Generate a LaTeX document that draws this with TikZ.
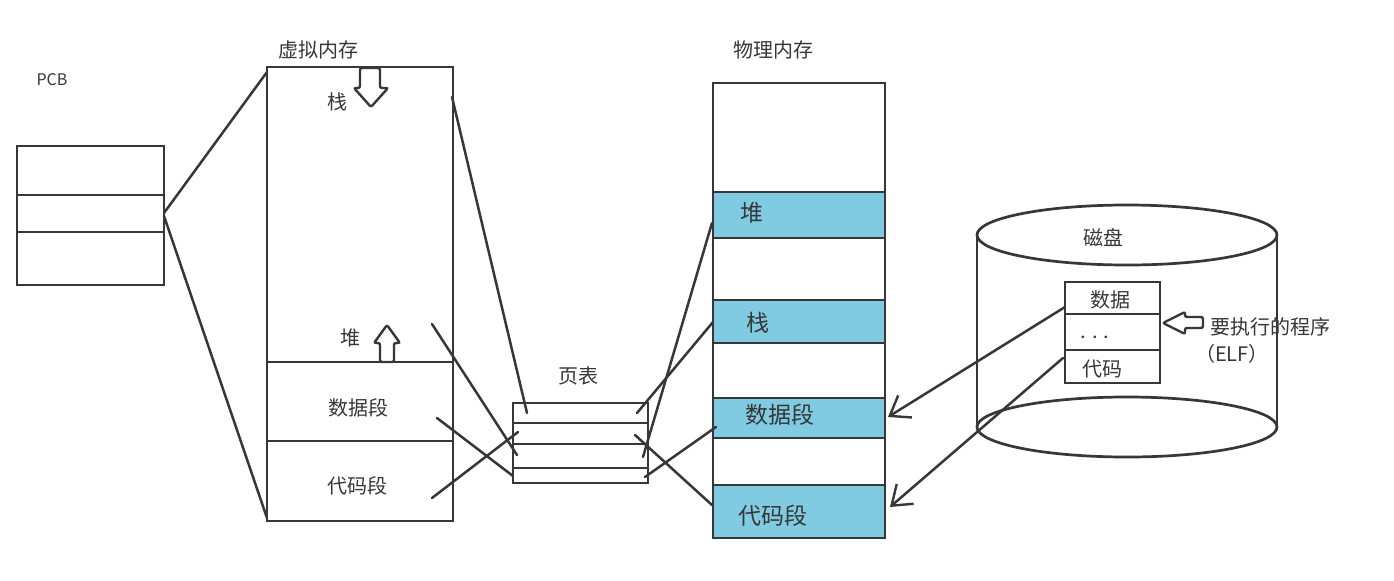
\documentclass[tikz,border=0pt]{standalone}
\usepackage{fontspec}
\newfontfamily\cjk{Noto Sans CJK SC}
\usetikzlibrary{arrows.meta}
\definecolor{band}{RGB}{128,202,226}
\definecolor{ink}{RGB}{55,55,55}
\begin{document}
\begin{tikzpicture}[x=0.5pt,y=-0.5pt,
  box/.style={draw=ink,line width=1.35pt},
  link/.style={draw=ink,line width=1.25pt,line cap=round},
  barb/.style={link,-{Straight Barb[length=9pt,width=13pt,line width=1.2pt]}},
  blockarrow/.style={draw=ink,fill=white,line width=1.2pt,rounded corners=1pt},
  lbl/.style={font=\cjk\fontsize{10}{12}\selectfont,text=ink,inner sep=0pt},
  big/.style={font=\cjk\fontsize{11.5}{13}\selectfont,text=ink,inner sep=0pt},
  small/.style={font=\cjk\fontsize{8}{10}\selectfont,text=ink,inner sep=0pt}]
\useasboundingbox[fill=white] (0,0) rectangle (1394,580);

% ---------- PCB ----------
\node[small] (pcbl) at (52,80) {PCB};
\draw[box] (17,146) rectangle (164,285);
\draw[box] (17,195) -- (164,195);
\draw[box] (17,232) -- (164,232);
\coordinate (pcbA) at (164,213);
\coordinate (pcbB) at (164,216);

% ---------- virtual memory ----------
\node[lbl] (vml) at (318,50) {虚拟内存};
\draw[box] (267,67) rectangle (453,521);
\draw[box] (267,362) -- (453,362);
\draw[box] (267,441) -- (453,441);
\node[lbl] (vstack) at (337,102) {栈};
\node[lbl] (vheap) at (350,338) {堆};
\node[lbl] (vdata) at (358,408) {数据段};
\node[lbl] (vcode) at (357,486) {代码段};
\draw[blockarrow] (360,68) -- (380,68) -- (380,88) -- (388,88) -- (371,107) -- (354,88) -- (360,88) -- cycle;
\draw[blockarrow] (380,362) -- (394,362) -- (394,343) -- (400,343) -- (387,325) -- (374,343) -- (380,343) -- cycle;
\coordinate (vmTL) at (267,72);
\coordinate (vmBL) at (267,518);
\draw[link] (pcbA) -- (vmTL);
\draw[link] (pcbB) -- (vmBL);

% ---------- page table ----------
\node[lbl] (ptl) at (578,376) {页表};
\draw[box] (513,403) rectangle (648,483);
\draw[box] (513,423) -- (648,423);
\draw[box] (513,444) -- (648,444);
\draw[box] (513,468) -- (648,468);

\coordinate (v1) at (452,97);   \coordinate (p1) at (527,413);
\coordinate (v2) at (432,324);  \coordinate (p2) at (517,455);
\coordinate (v3) at (437,418);  \coordinate (p3) at (513,476);
\coordinate (v4) at (432,498);  \coordinate (p4) at (518,432);
\draw[link] (v1) -- (p1);
\draw[link] (v2) -- (p2);
\draw[link] (v3) -- (p3);
\draw[link] (v4) -- (p4);

% ---------- physical memory ----------
\node[lbl] (pml) at (773,50) {物理内存};
\fill[band] (713,192) rectangle (885,238);
\fill[band] (713,300) rectangle (885,343);
\fill[band] (713,398) rectangle (885,438);
\fill[band] (713,485) rectangle (885,538);
\draw[box] (713,83) rectangle (885,538);
\foreach \yy in {192,238,300,343,398,438,485}
  \draw[box] (713,\yy) -- (885,\yy);
\node[big] (pheap) at (752,213) {堆};
\node[big] (pstack) at (758,323) {栈};
\node[big] (pdata) at (780,415) {数据段};
\node[big] (pcode) at (773,516) {代码段};

\coordinate (q1) at (643,457);  \coordinate (m1) at (712,223);
\coordinate (q2) at (637,413);  \coordinate (m2) at (713,322);
\coordinate (q3) at (645,477);  \coordinate (m3) at (716,427);
\coordinate (q4) at (635,435);  \coordinate (m4) at (712,505);
\draw[link] (q1) -- (m1);
\draw[link] (q2) -- (m2);
\draw[link] (q3) -- (m3);
\draw[link] (q4) -- (m4);

% ---------- disk ----------
\draw[box] (977,235) -- (977,427);
\draw[box] (1277,235) -- (1277,427);
\draw[box] (1127,235) ellipse [x radius=150, y radius=30];
\draw[box] (1127,427) ellipse [x radius=150, y radius=30];
\node[lbl] (diskl) at (1103,238) {磁盘};

\draw[box] (1065,282) rectangle (1160,383);
\draw[box] (1065,314) -- (1160,314);
\draw[box] (1065,350) -- (1160,350);
\node[lbl] (edata) at (1110,300) {数据};
\node[lbl] (edots) at (1095,337) {.\hspace{3pt}.\hspace{3pt}.};
\node[lbl] (ecode) at (1102,369) {代码};

\draw[blockarrow] (1163,323) -- (1185,312) -- (1185,317) -- (1203,317) -- (1203,328) -- (1185,328) -- (1185,334) -- cycle;
\node[lbl] (prog) at (1270,327) {要执行的程序};
\node[lbl] (elf) at (1232,354) {（ELF）};

\coordinate (e1) at (1065,307);  \coordinate (t1) at (888,417);
\coordinate (e2) at (1063,358);  \coordinate (t2) at (890,507);
\draw[barb] (e1) -- (t1);
\draw[barb] (e2) -- (t2);
\end{tikzpicture}
\end{document}
